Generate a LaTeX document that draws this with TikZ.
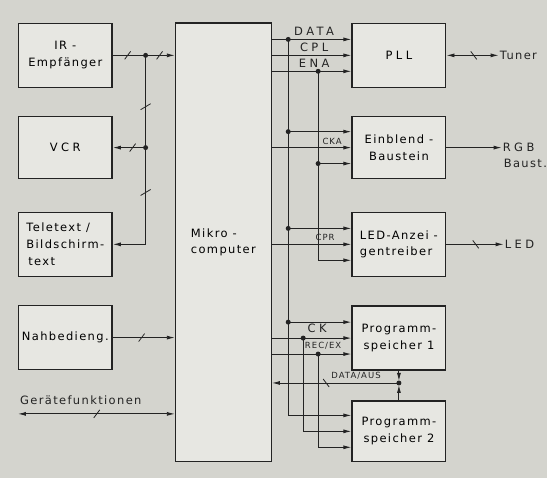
\documentclass[tikz,border=0pt]{standalone}
\usepackage{fontspec}
\setmainfont{DejaVu Sans}[LetterSpace=12]
\usetikzlibrary{arrows.meta}

\definecolor{paper}{RGB}{212,212,206}
\definecolor{boxfill}{RGB}{231,231,226}
\definecolor{ink}{RGB}{35,35,35}

\newcommand{\widetext}[1]{{\addfontfeature{LetterSpace=30}#1}}

\begin{document}
\begin{tikzpicture}[x=1pt, y=-1pt,
    box/.style={draw=ink, fill=boxfill, line width=1.4pt, minimum width=94pt,
      minimum height=64pt, inner sep=2pt, align=center,
      font=\fontsize{11.5}{17}\selectfont},
    wire/.style={draw=ink, line width=0.9pt},
    tip/.tip={Latex[length=8pt, width=4pt]},
    tick/.style={draw=ink, line width=0.8pt},
    lbl/.style={text=ink, inner sep=1pt, font=\fontsize{11.5}{13}\selectfont},
    smalllbl/.style={text=ink, inner sep=1pt, font=\fontsize{8.5}{10}\selectfont}]

    % paper
    \fill[paper] (0, 0) rectangle (548, 479);

    % left blocks
    \node (ir) at (65.5, 55.5) [box] {IR -\\Empfänger};
    \node (vcr) at (65.5, 148) [box, minimum height=62pt] {\widetext{VCR}};
    \node (ttx) at (65.5, 245) [box, align=left] {Teletext /\\Bildschirm-\\\,text};
    \node (nah) at (65.5, 338.5) [box] {Nahbedieng.};

    % mikrocomputer
    \node (mc) at (224, 243) [box, minimum width=96pt, minimum height=440pt, align=left] {Mikro -\\computer};

    % right blocks
    \node (pll) at (400, 55.5) [box] {\widetext{PLL}};
    \node (ein) at (400, 148) [box, minimum height=62pt] {Einblend -\\Baustein};
    \node (led) at (400, 245) [box, align=left] {LED-Anzei -\\gentreiber};
    \node (ps1) at (400, 339) [box] {Programm-\\speicher 1};
    \node (ps2) at (400, 432.5) [box, minimum height=61pt] {Programm-\\speicher 2};

    % outputs
    \node (tuner) at (500, 55.5) [lbl, anchor=west] {Tuner};
    \node (rgb) at (503, 148) [lbl, anchor=west] {\widetext{RGB}};
    \node (baust) at (504, 164) [lbl, anchor=west] {Baust.};
    \node (ledout) at (505, 245) [lbl, anchor=west] {\widetext{LED}};
    \node (gf) at (81, 401) [lbl] {Gerätefunktionen};
    \coordinate (gfend) at (18, 415);

    % input points of the right blocks
    \foreach \b in {pll, ein, led, ps1, ps2} {
        \coordinate (\b-a) at ([yshift=16pt]\b.west);
        \coordinate (\b-b) at (\b.west);
        \coordinate (\b-c) at ([yshift=-16pt]\b.west);
    }
    \coordinate (busA) at (289, 0);
    \coordinate (busB) at (319, 0);
    \coordinate (busC) at (304, 0);
    \coordinate (j1) at (146, 55.5);
    \coordinate (j2) at (j1 |- vcr.east);
    \coordinate (jout) at (ps1.south |- 0, 384);

    % left side connections
    \draw[wire, -tip] (ir.east) -- (ir.east -| mc.west);
    \draw[wire, -tip] (j1) |- (ttx.east);
    \draw[wire, -tip] (j2) -- (vcr.east);
    \draw[wire, -tip] (nah.east) -- (nah.east -| mc.west);
    \draw[wire, tip-tip] (gfend) -- (gfend -| mc.west);

    % bus to the right blocks
    \draw[wire, -tip] (pll-a -| mc.east) -- (pll-a);
    \draw[wire, -tip] (pll-b -| mc.east) -- (pll-b);
    \draw[wire, -tip] (pll-c -| mc.east) -- (pll-c);
    \draw[wire, -tip] (busA |- pll-a) |- (ps2-a);
    \draw[wire, -tip] (busA |- ein-a) -- (ein-a);
    \draw[wire, -tip] (busA |- led-a) -- (led-a);
    \draw[wire, -tip] (busA |- ps1-a) -- (ps1-a);
    \draw[wire, -tip] (busB |- pll-c) |- (led-c);
    \draw[wire, -tip] (busB |- ein-c) -- (ein-c);
    \draw[wire, -tip] (ein-b -| mc.east) -- (ein-b);
    \draw[wire, -tip] (led-b -| mc.east) -- (led-b);
    \draw[wire, -tip] (ps1-b -| mc.east) -- (ps1-b);
    \draw[wire, -tip] (ps1-c -| mc.east) -- (ps1-c);
    \draw[wire, -tip] (busC |- ps1-b) |- (ps2-b);
    \draw[wire, -tip] (busB |- ps1-c) |- (ps2-c);

    % data out of the program memories
    \draw[wire, -tip, shorten >=2pt] (ps1.south) -- (jout);
    \draw[wire, -tip, shorten >=2pt] (ps2.north) -- (jout);
    \draw[wire, -tip] (jout) -- (jout -| mc.east);

    % outputs
    \draw[wire, tip-tip] (pll.east) -- (tuner.west);
    \draw[wire, -tip] (ein.east) -- (rgb.west);
    \draw[wire, -tip] (led.east) -- (ledout.west);

    % junction dots
    \foreach \d in {(j1), (j2), (jout), (busA |- pll-a), (busA |- ein-a), (busA |- led-a),
        (busA |- ps1-a), (busB |- pll-c), (busB |- ein-c), (busC |- ps1-b), (busB |- ps1-c)}
        \fill[ink] \d circle (2.5);

    % bus ticks
    \foreach \p in {(128, 55.5), (160, 55.5), (133, 148), (142, 338.5), (97, 415)}
        \draw[tick] \p +(-3, 4) -- +(3, -4);
    \foreach \p in {(146, 107), (146, 193)}
        \draw[tick] \p +(-5, 3) -- +(5, -3);
    \foreach \p in {(475, 55.5), (477, 245), (327, 384)}
        \draw[tick] \p +(-3, -4) -- +(3, 4);

    % signal names
    \node (ldata) at (315, 31) [lbl] {\widetext{DATA}};
    \node (lcpl) at (315, 47) [lbl] {\widetext{CPL}};
    \node (lena) at (315, 63) [lbl] {\widetext{ENA}};
    \node (lcka) at (333, 142) [smalllbl] {CKA};
    \node (lcpr) at (326, 238) [smalllbl] {CPR};
    \node (lck) at (318, 329) [lbl] {\widetext{CK}};
    \node (lrec) at (324, 347) [smalllbl] {REC/EX};
    \node (lout) at (357, 377) [smalllbl] {DATA/AUS};
\end{tikzpicture}
\end{document}
